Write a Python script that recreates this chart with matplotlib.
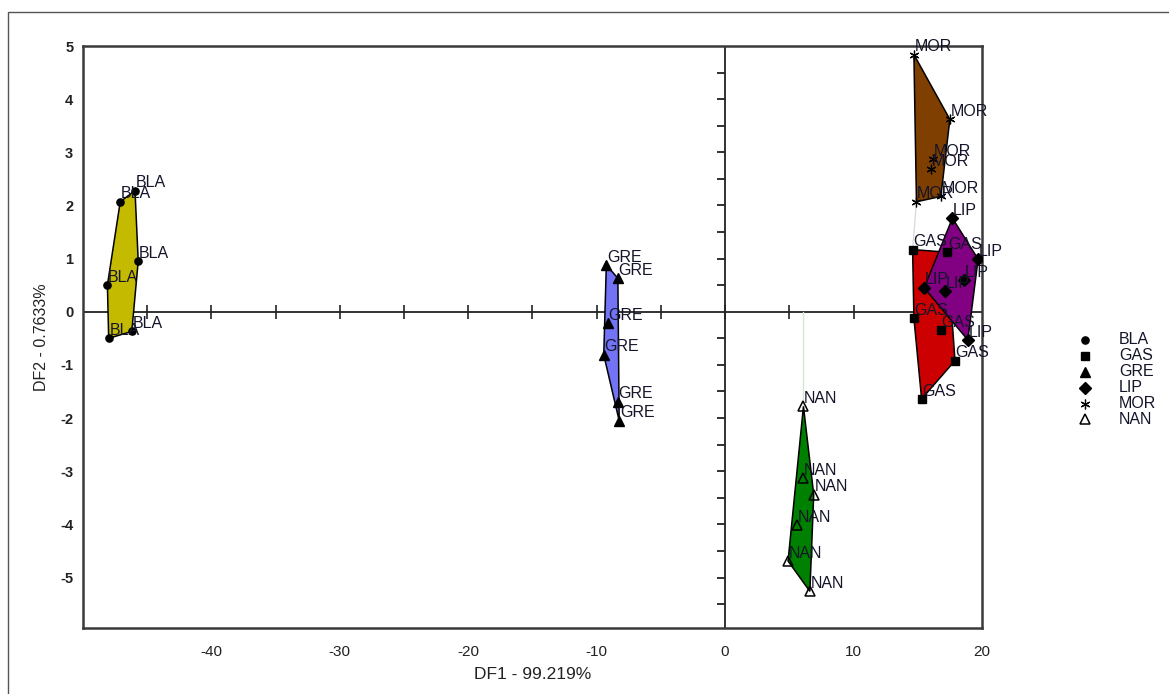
import numpy as np
import matplotlib
matplotlib.use("Agg")
import matplotlib.pyplot as plt
from matplotlib.patches import Polygon, Rectangle

plt.rcParams["axes.unicode_minus"] = False

# Discriminant function scores per group (DF1, DF2)
groups = ["BLA", "GAS", "GRE", "LIP", "MOR", "NAN"]

bla_df1 = [-45.95, -47.1, -45.7, -48.1, -46.2, -48.0]
bla_df2 = [2.28, 2.07, 0.95, 0.50, -0.37, -0.50]

gas_df1 = [14.6, 17.3, 14.7, 16.8, 17.9, 15.3]
gas_df2 = [1.17, 1.12, -0.12, -0.35, -0.92, -1.64]

gre_df1 = [-9.25, -8.35, -9.15, -9.45, -8.35, -8.25]
gre_df2 = [0.88, 0.63, -0.21, -0.81, -1.69, -2.05]

lip_df1 = [17.7, 19.7, 18.6, 17.1, 15.5, 18.9]
lip_df2 = [1.76, 0.99, 0.59, 0.39, 0.45, -0.53]

mor_df1 = [14.7, 17.5, 16.2, 16.0, 14.9, 16.8]
mor_df2 = [4.84, 3.62, 2.87, 2.68, 2.07, 2.17]

nan_df1 = [6.1, 6.05, 6.9, 5.6, 4.9, 6.6]
nan_df2 = [-1.78, -3.13, -3.44, -4.02, -4.69, -5.26]

x_ticks = [-40, -30, -20, -10, 0, 10, 20]
y_ticks = [-5, -4, -3, -2, -1, 0, 1, 2, 3, 4, 5]

data = {
    "BLA": (bla_df1, bla_df2),
    "GAS": (gas_df1, gas_df2),
    "GRE": (gre_df1, gre_df2),
    "LIP": (lip_df1, lip_df2),
    "MOR": (mor_df1, mor_df2),
    "NAN": (nan_df1, nan_df2),
}

fills = {"BLA": "#c4bb00", "GAS": "#cc0000", "GRE": "#7373f5",
         "LIP": "#820082", "MOR": "#7f3f00", "NAN": "#008000"}
markers = {"BLA": dict(marker="o", ms=5.2, mfc="black"),
           "GAS": dict(marker="s", ms=6.0, mfc="black"),
           "GRE": dict(marker="^", ms=6.5, mfc="black"),
           "LIP": dict(marker="D", ms=6.0, mfc="black"),
           "MOR": dict(marker=(6, 2, 0), ms=7.0, mfc="black", mew=0.9),
           "NAN": dict(marker="^", ms=7.5, mfc="none", mew=1.1)}


def convex_hull(xs, ys):
    pts = sorted(set(zip(xs, ys)))
    if len(pts) < 3:
        return pts

    def cross(o, a, b):
        return (a[0] - o[0]) * (b[1] - o[1]) - (a[1] - o[1]) * (b[0] - o[0])

    lower, upper = [], []
    for p in pts:
        while len(lower) >= 2 and cross(lower[-2], lower[-1], p) <= 0:
            lower.pop()
        lower.append(p)
    for p in reversed(pts):
        while len(upper) >= 2 and cross(upper[-2], upper[-1], p) <= 0:
            upper.pop()
        upper.append(p)
    return lower[:-1] + upper[:-1]


fig = plt.figure(figsize=(11.69, 6.94), dpi=100)
fig.patch.set_facecolor("white")

# outer frame around the whole graphic
fig.patches.append(Rectangle((0.0068, -0.2), 1.5, 1.1827, transform=fig.transFigure,
                             fill=False, edgecolor="#555555", lw=1.0, zorder=0))

ax = fig.add_axes([0.0710, 0.0951, 0.7690, 0.8386])
ax.set_xlim(-50, 20)
ax.set_ylim(-5.95, 5)

for s in ax.spines.values():
    s.set_linewidth(1.8)
    s.set_color("#3a3a3a")

ax.set_xticks(x_ticks)
ax.set_yticks(y_ticks)
ax.tick_params(axis="both", length=0)
ax.tick_params(axis="x", pad=12)
ax.tick_params(axis="y", pad=7)
for lab in ax.get_xticklabels():
    lab.set_family(["Liberation Sans Narrow", "Liberation Sans", "DejaVu Sans"])
    lab.set_fontsize(11)
    lab.set_color("#222222")
for lab in ax.get_yticklabels():
    lab.set_family(["Liberation Sans", "DejaVu Sans"])
    lab.set_fontweight("bold")
    lab.set_fontsize(10.5)
    lab.set_color("#222222")

ax.set_xlabel("DF1 - 99.219%", family=["Liberation Sans Narrow", "Liberation Sans", "DejaVu Sans"],
              fontsize=12.5, color="#222222", labelpad=6)
ax.set_ylabel("DF2 - 0.7633%", family=["Liberation Sans", "DejaVu Sans"],
              fontsize=11.5, color="#222222", labelpad=8)

# central reference axes with their own tick marks
ax.axhline(0, color="#222222", lw=1.3, zorder=1)
ax.axvline(0, color="#222222", lw=1.3, zorder=1)
hx = np.arange(-45, 20, 5)
ax.plot(hx, np.zeros_like(hx, dtype=float), ls="none", marker="|", ms=10,
        mew=1.2, color="#222222", zorder=1)
vy = np.arange(-5.5, 5.0, 0.5)
vy = vy[vy != 0]
ax.plot(np.zeros_like(vy), vy, ls="none", marker=0, ms=5.5, mew=1.3,
        color="#222222", zorder=1)

# faint connector traces
ax.plot([nan_df1[0], nan_df1[0]], [0, nan_df2[0]], color="#cfe6cf", lw=0.9, zorder=1)
ax.plot([mor_df1[4], gas_df1[0]], [mor_df2[4], gas_df2[0]], color="#d8d8d8", lw=0.9, zorder=1)

# group hulls
for g in ["BLA", "GRE", "MOR", "GAS", "LIP", "NAN"]:
    xs, ys = data[g]
    hull = convex_hull(xs, ys)
    ax.add_patch(Polygon(hull, closed=True, facecolor=fills[g], edgecolor="black",
                         lw=1.1, zorder=2))

# points and labels
for g in groups:
    xs, ys = data[g]
    ax.plot(xs, ys, ls="none", color="black", mec="black", zorder=4, **markers[g])
    for x, y in zip(xs, ys):
        ax.annotate(g, (x, y), xytext=(0.5, 0.3), textcoords="offset points",
                    ha="left", va="bottom", fontsize=11.5,
                    family=["Liberation Sans", "DejaVu Sans"], color="#15152a",
                    zorder=5, annotation_clip=False)

# legend to the right of the plot
leg_y0 = 1 - 340 / 694
leg_dy = 15.9 / 694
for i, g in enumerate(groups):
    yy = leg_y0 - i * leg_dy
    m = dict(markers[g])
    fig.add_artist(plt.Line2D([1085 / 1169], [yy], transform=fig.transFigure,
                              ls="none", color="black", mec="black", **m))
    fig.text(1119 / 1169, yy, g, ha="left", va="center", fontsize=11.5,
             family=["Liberation Sans", "DejaVu Sans"], color="#15152a")

fig.savefig("out.png", dpi=100)
